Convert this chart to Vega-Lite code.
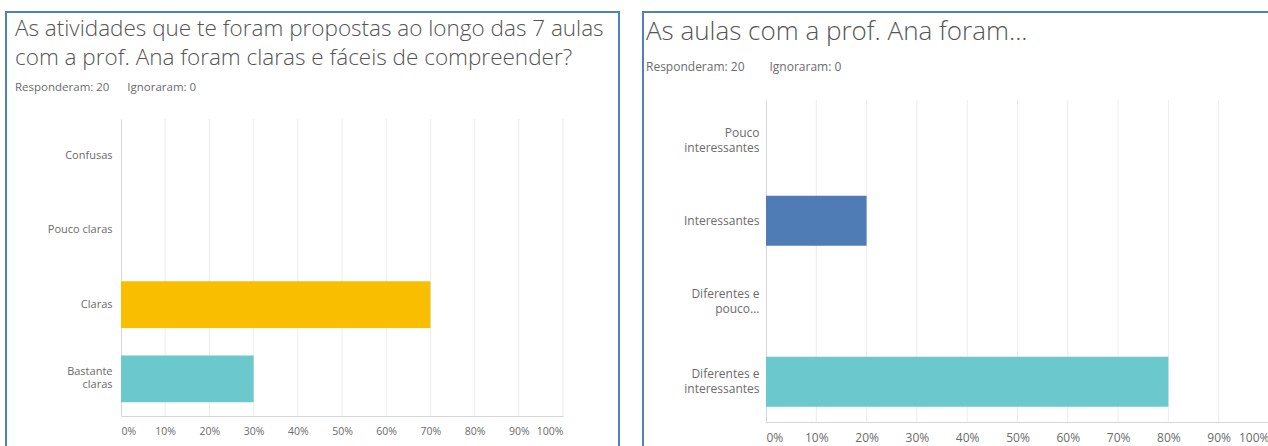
{
  "$schema": "https://vega.github.io/schema/vega-lite/v6.json",
  "padding": {"left": 5, "top": 11, "right": 0, "bottom": 0},
  "background": "white",
  "spacing": 22,
  "config": {
    "font": "Open Sans",
    "axis": {
      "labelFont": "Open Sans",
      "labelColor": "#6b6b6b",
      "ticks": false,
      "tickSize": 0,
      "domainColor": "#d6d6d6",
      "grid": false,
      "title": null
    },
    "title": {
      "anchor": "start",
      "frame": "group",
      "font": "Open Sans",
      "fontWeight": 300,
      "color": "#555555",
      "subtitleFont": "Open Sans",
      "subtitleColor": "#6b6b6b"
    }
  },
  "hconcat": [
    {
      "width": 613,
      "height": 435,
      "view": {"stroke": "#4f81bd", "strokeWidth": 2, "strokeDash": [1048, 613, 435], "fill": null},
      "title": {
        "text": ["As atividades que te foram propostas ao longo das 7 aulas", "com a prof. Ana foram claras e fáceis de compreender?"],
        "subtitle": "Responderam: 20\u00a0\u00a0\u00a0\u00a0\u00a0\u00a0Ignoraram: 0",
        "fontSize": 22.5,
        "lineHeight": 29,
        "subtitleFontSize": 11.5,
        "subtitlePadding": 12,
        "offset": -81,
        "dx": 9
      },
      "layer": [
        {
          "data": {"values": [{"tick": 0.1}, {"tick": 0.2}, {"tick": 0.3}, {"tick": 0.4}, {"tick": 0.5}, {"tick": 0.6}, {"tick": 0.7}, {"tick": 0.8}, {"tick": 0.9}, {"tick": 1}]},
          "mark": {"type": "rule", "color": "#ececec", "strokeWidth": 1},
          "encoding": {
            "x": {"field": "tick", "type": "quantitative", "scale": {"domain": [0, 1], "range": [115, 557], "nice": false}},
            "y": {"datum": 0, "type": "quantitative", "scale": {"domain": [0, 1], "range": [107, 404], "nice": false}, "axis": null},
            "y2": {"datum": 1}
          }
        },
        {
          "data": {
            "values": [
              {"answer": "Confusas", "pct": 0},
              {"answer": "Pouco claras", "pct": 0},
              {"answer": "Claras", "pct": 0.7},
              {"answer": "Bastante\nclaras", "pct": 0.3}
            ]
          },
          "mark": {"type": "bar"},
          "encoding": {
            "y": {
              "field": "answer", "type": "nominal", "sort": null,
              "scale": {"range": [107, 404], "paddingInner": 0.37, "paddingOuter": 0.185},
              "axis": {
                "offset": -115, "labelPadding": 9, "labelFontSize": 11, "labelLineHeight": 13,
                "labelExpr": "split(datum.label, '\\n')",
                "labelOffset": {"condition": {"test": "indexof(datum.value, '\\n') >= 0", "value": -6.5}, "value": 0}
              }
            },
            "x": {
              "field": "pct", "type": "quantitative",
              "scale": {"domain": [0, 1], "range": [115, 557], "nice": false},
              "axis": {"offset": -31, "values": [0, 0.1, 0.2, 0.3, 0.4, 0.5, 0.6, 0.7, 0.8, 0.9, 1], "format": ".0%", "labelFlush": true, "labelPadding": 10, "labelFontSize": 10.5}
            },
            "color": {
              "field": "answer", "type": "nominal",
              "scale": {"domain": ["Confusas", "Pouco claras", "Claras", "Bastante\nclaras"], "range": ["#507cb6", "#507cb6", "#f9be00", "#6bc8cd"]},
              "legend": null
            }
          }
        }
      ],
      "resolve": {"scale": {"y": "independent"}}
    },
    {
      "width": 628,
      "height": 435,
      "view": {"stroke": "#4f81bd", "strokeWidth": 2, "strokeDash": [628, 1063, 435], "fill": null},
      "title": {
        "text": "As aulas com a prof. Ana foram...",
        "subtitle": "Responderam: 20\u00a0\u00a0\u00a0\u00a0\u00a0\u00a0\u00a0\u00a0Ignoraram: 0",
        "fontSize": 26,
        "subtitleFontSize": 12,
        "subtitlePadding": 17,
        "offset": -61,
        "dx": 3
      },
      "layer": [
        {
          "data": {"values": [{"tick": 0.1}, {"tick": 0.2}, {"tick": 0.3}, {"tick": 0.4}, {"tick": 0.5}, {"tick": 0.6}, {"tick": 0.7}, {"tick": 0.8}, {"tick": 0.9}, {"tick": 1}]},
          "mark": {"type": "rule", "color": "#ececec", "strokeWidth": 1},
          "encoding": {
            "x": {"field": "tick", "type": "quantitative", "scale": {"domain": [0, 1], "range": [123, 626], "nice": false}},
            "y": {"datum": 0, "type": "quantitative", "scale": {"domain": [0, 1], "range": [88, 410], "nice": false}, "axis": null},
            "y2": {"datum": 1}
          }
        },
        {
          "data": {
            "values": [
              {"answer": "Pouco\ninteressantes", "pct": 0},
              {"answer": "Interessantes", "pct": 0.2},
              {"answer": "Diferentes e\npouco...", "pct": 0},
              {"answer": "Diferentes e\ninteressantes", "pct": 0.8}
            ]
          },
          "mark": {"type": "bar"},
          "encoding": {
            "y": {
              "field": "answer", "type": "nominal", "sort": null,
              "scale": {"range": [88, 410], "paddingInner": 0.38, "paddingOuter": 0.19},
              "axis": {
                "offset": -123, "labelPadding": 7, "labelFontSize": 12, "labelLineHeight": 15,
                "labelExpr": "split(datum.label, '\\n')",
                "labelOffset": {"condition": {"test": "indexof(datum.value, '\\n') >= 0", "value": -7.5}, "value": 0}
              }
            },
            "x": {
              "field": "pct", "type": "quantitative",
              "scale": {"domain": [0, 1], "range": [123, 626], "nice": false},
              "axis": {"offset": -25, "values": [0, 0.1, 0.2, 0.3, 0.4, 0.5, 0.6, 0.7, 0.8, 0.9, 1], "format": ".0%", "labelFlush": true, "labelPadding": 10, "labelFontSize": 12}
            },
            "color": {
              "field": "answer", "type": "nominal",
              "scale": {"domain": ["Pouco\ninteressantes", "Interessantes", "Diferentes e\npouco...", "Diferentes e\ninteressantes"], "range": ["#507cb6", "#507cb6", "#f9be00", "#6bc8cd"]},
              "legend": null
            }
          }
        }
      ],
      "resolve": {"scale": {"y": "independent"}}
    }
  ]
}
